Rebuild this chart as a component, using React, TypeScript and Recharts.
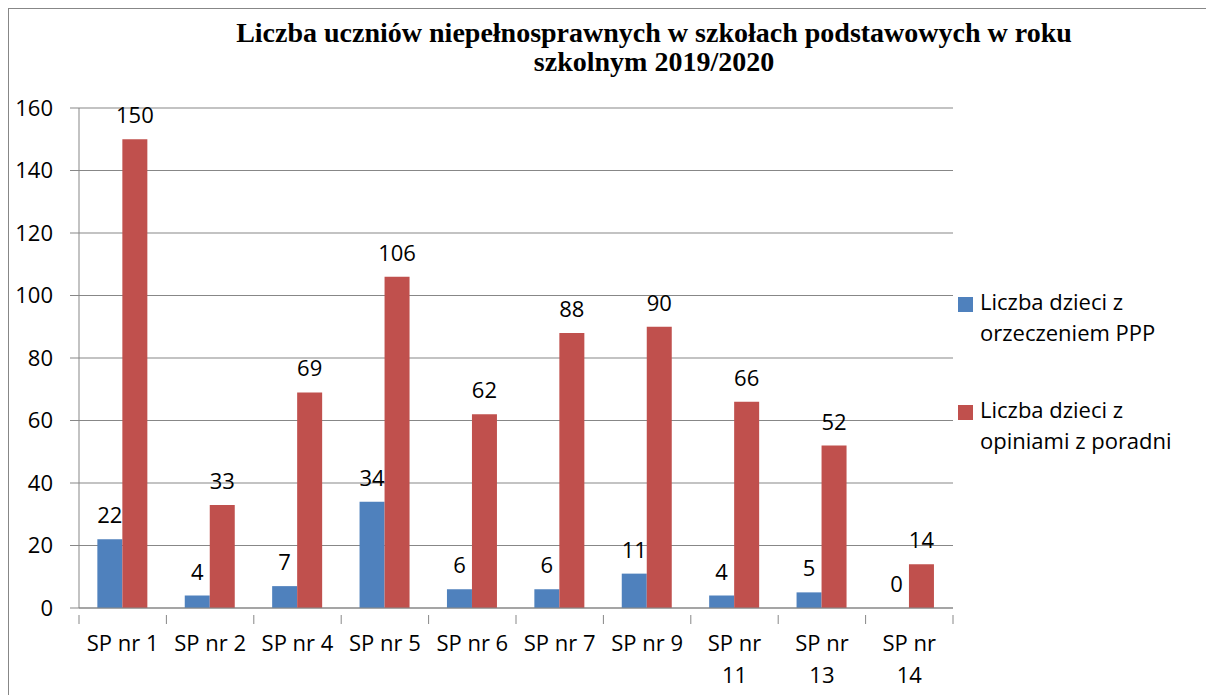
import { BarChart, Bar, XAxis, YAxis, CartesianGrid, LabelList } from 'recharts'

const schools = ['SP nr 1', 'SP nr 2', 'SP nr 4', 'SP nr 5', 'SP nr 6', 'SP nr 7', 'SP nr 9', 'SP nr 11', 'SP nr 13', 'SP nr 14']
const withDecision = [22, 4, 7, 34, 6, 6, 11, 4, 5, 0]
const withOpinion = [150, 33, 69, 106, 62, 88, 90, 66, 52, 14]
const yTicks = [0, 20, 40, 60, 80, 100, 120, 140, 160]

const seriesNames = ['Liczba dzieci z orzeczeniem PPP', 'Liczba dzieci z opiniami z poradni']
const seriesColors = ['#4F81BD', '#C0504D']
const legendLines = [
  ['Liczba dzieci z', 'orzeczeniem PPP'],
  ['Liczba dzieci z', 'opiniami z poradni'],
]

const data = schools.map((name, i) => ({
  name,
  decision: withDecision[i],
  opinion: withOpinion[i],
}))

const FONT = '"Open Sans", sans-serif'
const FS = 22
const AXIS_GREY = '#878787'

function SchoolTick(props: any) {
  const { x, y, payload, index, visibleTicksCount } = props
  const half = payload?.offset ?? 43.7
  const label: string = payload.value
  // long names wrap onto a second line, like in the original
  const cut = label.lastIndexOf(' ')
  const lines = label.length > 7 ? [label.slice(0, cut), label.slice(cut + 1)] : [label]
  return (
    <g>
      <line x1={x - half} x2={x - half} y1={y - 1} y2={y + 8} stroke={AXIS_GREY} />
      {index === visibleTicksCount - 1 && (
        <line x1={x + half} x2={x + half} y1={y - 1} y2={y + 8} stroke={AXIS_GREY} />
      )}
      {lines.map((l, i) => (
        <text key={i} x={x} y={y + 35 + i * 32} textAnchor="middle" fontSize={FS} fontFamily={FONT} fill="#000">
          {l}
        </text>
      ))}
    </g>
  )
}

function LegendBox() {
  return (
    <div style={{ position: 'absolute', left: 949, top: 287, width: 250, fontFamily: FONT, fontSize: FS, color: '#000' }}>
      {legendLines.map((lines, i) => (
        <div key={i} title={seriesNames[i]} style={{ position: 'absolute', left: 0, top: i * 108 }}>
          <div style={{ position: 'absolute', left: 0, top: 1, width: 15, height: 15, background: seriesColors[i] }} />
          <div style={{ position: 'absolute', left: 22, top: -10, lineHeight: '31px', whiteSpace: 'nowrap' }}>
            {lines[0]}
            <br />
            {lines[1]}
          </div>
        </div>
      ))}
    </div>
  )
}

export default function App() {
  return (
    <div style={{ position: 'relative', width: 1202, height: 700, border: `1px solid ${AXIS_GREY}`, background: '#fff' }}>
      <style>{'body{overflow:hidden}'}</style>
      <div
        style={{
          position: 'absolute',
          left: 145,
          top: 9,
          width: 1000,
          textAlign: 'center',
          fontFamily: '"Liberation Serif", serif',
          fontWeight: 'bold',
          fontSize: 28,
          lineHeight: '29px',
          whiteSpace: 'nowrap',
        }}
      >
        Liczba uczniów niepełnosprawnych w szkołach podstawowych w roku
        <br />
        szkolnym 2019/2020
      </div>
      <BarChart
        width={1202}
        height={700}
        data={data}
        margin={{ top: 99, right: 258, bottom: 21, left: 0 }}
        barCategoryGap="21%"
        barGap={0}
      >
        <CartesianGrid vertical={false} stroke={AXIS_GREY} />
        <XAxis
          dataKey="name"
          stroke={AXIS_GREY}
          tickLine={false}
          tick={<SchoolTick />}
          interval={0}
          height={80}
        />
        <YAxis
          domain={[0, 160]}
          ticks={yTicks}
          width={70}
          stroke={AXIS_GREY}
          tickSize={9}
          tickMargin={17}
          tick={{ fill: '#000', fontSize: FS, fontFamily: FONT }}
          interval={0}
        />
        <Bar
          dataKey="decision"
          name={seriesNames[0]}
          fill={seriesColors[0]}
          minPointSize={0.01}
          isAnimationActive={false}
        >
          <LabelList dataKey="decision" position="top" offset={16} fill="#000" fontSize={FS} fontFamily={FONT} />
        </Bar>
        <Bar dataKey="opinion" name={seriesNames[1]} fill={seriesColors[1]} isAnimationActive={false}>
          <LabelList dataKey="opinion" position="top" offset={16} fill="#000" fontSize={FS} fontFamily={FONT} />
        </Bar>
      </BarChart>
      <LegendBox />
    </div>
  )
}
